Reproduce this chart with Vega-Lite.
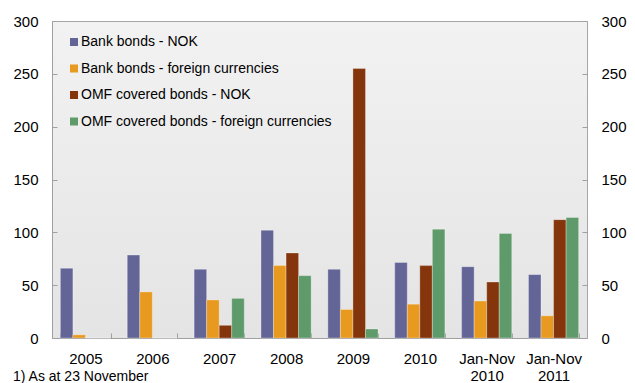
{
  "$schema": "https://vega.github.io/schema/vega-lite/v6.json",
  "width": 535,
  "height": 317,
  "autosize": {"type": "none"},
  "padding": {"left": 52, "top": 21, "right": 48, "bottom": 45},
  "background": "white",
  "title": {
    "text": "1) As at 23 November",
    "orient": "bottom",
    "anchor": "start",
    "frame": "group",
    "dx": -39,
    "offset": -13.5,
    "baseline": "top",
    "font": "Liberation Sans",
    "fontSize": 14,
    "fontWeight": "normal",
    "color": "#000000"
  },
  "config": {
    "font": "Liberation Sans",
    "view": {
      "fill": {
        "gradient": "linear",
        "x1": 0, "y1": 0, "x2": 0, "y2": 1,
        "stops": [
          {"offset": 0, "color": "#F2F2F2"},
          {"offset": 1, "color": "#E4E4E4"}
        ]
      },
      "stroke": "#A6A6A6",
      "strokeWidth": 1
    },
    "axis": {
      "labelFont": "Liberation Sans",
      "labelFontSize": 15,
      "labelColor": "#000000",
      "grid": false,
      "domainColor": "#A0A0A0",
      "tickColor": "#A0A0A0",
      "title": null
    },
    "legend": {
      "labelFont": "Liberation Sans",
      "labelFontSize": 14,
      "labelColor": "#000000",
      "labelLimit": 0
    }
  },
  "data": {
    "values": [
      {"period": "2005", "series": "Bank bonds - NOK", "value": 66},
      {"period": "2005", "series": "Bank bonds - foreign currencies", "value": 3},
      {"period": "2005", "series": "OMF covered bonds - NOK", "value": 0},
      {"period": "2005", "series": "OMF covered bonds - foreign currencies", "value": 0},
      {"period": "2006", "series": "Bank bonds - NOK", "value": 78.5},
      {"period": "2006", "series": "Bank bonds - foreign currencies", "value": 43.6},
      {"period": "2006", "series": "OMF covered bonds - NOK", "value": 0},
      {"period": "2006", "series": "OMF covered bonds - foreign currencies", "value": 0},
      {"period": "2007", "series": "Bank bonds - NOK", "value": 65},
      {"period": "2007", "series": "Bank bonds - foreign currencies", "value": 36},
      {"period": "2007", "series": "OMF covered bonds - NOK", "value": 12},
      {"period": "2007", "series": "OMF covered bonds - foreign currencies", "value": 37.5},
      {"period": "2008", "series": "Bank bonds - NOK", "value": 102},
      {"period": "2008", "series": "Bank bonds - foreign currencies", "value": 68.5},
      {"period": "2008", "series": "OMF covered bonds - NOK", "value": 80.5},
      {"period": "2008", "series": "OMF covered bonds - foreign currencies", "value": 59},
      {"period": "2009", "series": "Bank bonds - NOK", "value": 65},
      {"period": "2009", "series": "Bank bonds - foreign currencies", "value": 27},
      {"period": "2009", "series": "OMF covered bonds - NOK", "value": 255},
      {"period": "2009", "series": "OMF covered bonds - foreign currencies", "value": 8.5},
      {"period": "2010", "series": "Bank bonds - NOK", "value": 71.5},
      {"period": "2010", "series": "Bank bonds - foreign currencies", "value": 32},
      {"period": "2010", "series": "OMF covered bonds - NOK", "value": 68.5},
      {"period": "2010", "series": "OMF covered bonds - foreign currencies", "value": 103},
      {"period": "Jan-Nov 2010", "series": "Bank bonds - NOK", "value": 67.5},
      {"period": "Jan-Nov 2010", "series": "Bank bonds - foreign currencies", "value": 35},
      {"period": "Jan-Nov 2010", "series": "OMF covered bonds - NOK", "value": 53},
      {"period": "Jan-Nov 2010", "series": "OMF covered bonds - foreign currencies", "value": 99},
      {"period": "Jan-Nov 2011", "series": "Bank bonds - NOK", "value": 60},
      {"period": "Jan-Nov 2011", "series": "Bank bonds - foreign currencies", "value": 21},
      {"period": "Jan-Nov 2011", "series": "OMF covered bonds - NOK", "value": 112},
      {"period": "Jan-Nov 2011", "series": "OMF covered bonds - foreign currencies", "value": 114}
    ]
  },
  "layer": [
    {
      "mark": {"type": "bar", "stroke": "#FFFFFF", "strokeOpacity": 0.3, "strokeWidth": 1},
      "encoding": {
        "x": {
          "field": "period",
          "type": "nominal",
          "sort": ["2005", "2006", "2007", "2008", "2009", "2010", "Jan-Nov 2010", "Jan-Nov 2011"],
          "scale": {"paddingInner": 0.25, "paddingOuter": 0.125},
          "axis": {
            "labelAngle": 0,
            "labelExpr": "indexof(datum.label, 'Jan') == 0 ? split(datum.label, ' ') : datum.label",
            "labelLineHeight": 17,
            "tickBand": "extent",
            "tickSize": -5,
            "labelPadding": 18,
            "domainColor": "#A0A0A0"
          }
        },
        "xOffset": {
          "field": "series",
          "type": "nominal",
          "sort": ["Bank bonds - NOK", "Bank bonds - foreign currencies", "OMF covered bonds - NOK", "OMF covered bonds - foreign currencies"],
          "scale": {"paddingInner": 0, "paddingOuter": 0}
        },
        "y": {
          "field": "value",
          "type": "quantitative",
          "scale": {"domain": [0, 300], "nice": false},
          "axis": {
            "orient": "left",
            "values": [0, 50, 100, 150, 200, 250, 300],
            "tickSize": -5,
            "labelPadding": 19
          }
        },
        "color": {
          "field": "series",
          "type": "nominal",
          "sort": ["Bank bonds - NOK", "Bank bonds - foreign currencies", "OMF covered bonds - NOK", "OMF covered bonds - foreign currencies"],
          "scale": {
            "domain": ["Bank bonds - NOK", "Bank bonds - foreign currencies", "OMF covered bonds - NOK", "OMF covered bonds - foreign currencies"],
            "range": ["#646597", "#E8991F", "#84350B", "#5E9A6A"]
          },
          "legend": {
            "title": null,
            "orient": "none",
            "legendX": 15,
            "legendY": 14,
            "symbolType": "square",
            "symbolSize": 64,
            "symbolStrokeWidth": 0,
            "labelOffset": 0,
            "rowPadding": 12.5,
            "padding": 0
          }
        }
      }
    },
    {
      "mark": {"type": "bar", "opacity": 0},
      "encoding": {
        "x": {
          "field": "period",
          "type": "nominal",
          "sort": ["2005", "2006", "2007", "2008", "2009", "2010", "Jan-Nov 2010", "Jan-Nov 2011"]
        },
        "xOffset": {
          "field": "series",
          "type": "nominal",
          "sort": ["Bank bonds - NOK", "Bank bonds - foreign currencies", "OMF covered bonds - NOK", "OMF covered bonds - foreign currencies"]
        },
        "y": {
          "field": "value",
          "type": "quantitative",
          "axis": {
            "orient": "right",
            "values": [0, 50, 100, 150, 200, 250, 300],
            "tickSize": -5,
            "labelPadding": 19,
            "domain": false
          }
        }
      }
    }
  ],
  "resolve": {"axis": {"y": "independent"}}
}
